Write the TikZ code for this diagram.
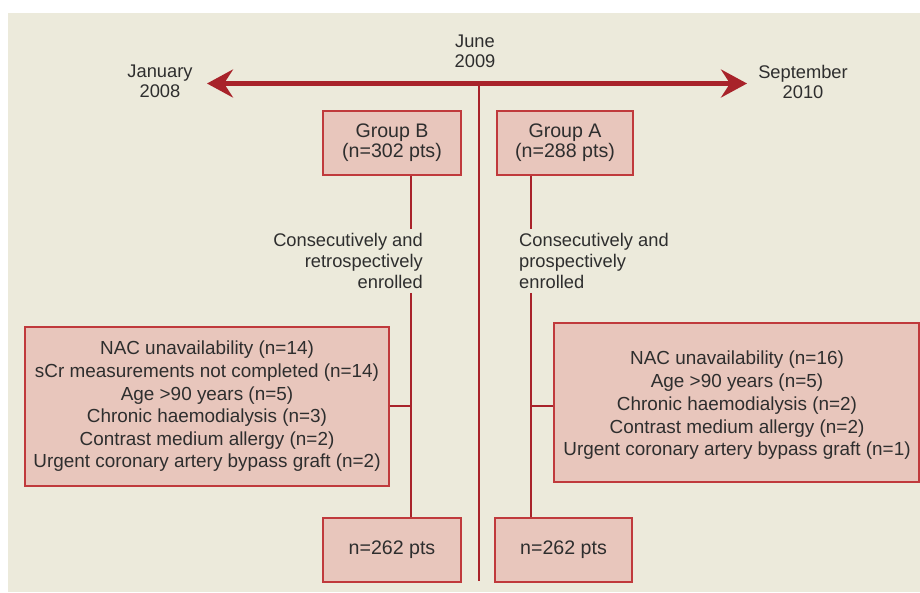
\documentclass[tikz,border=0pt]{standalone}
\usepackage{fontspec}
\setmainfont{Liberation Sans}
\usetikzlibrary{arrows.meta}
\definecolor{paper}{HTML}{ECEADB}
\definecolor{boxfill}{HTML}{E8C6BC}
\definecolor{boxline}{HTML}{C03A3C}
\definecolor{linkred}{HTML}{A8232A}
\definecolor{ink}{HTML}{2E2E2E}
\tikzset{
  pbox/.style={draw=boxline, fill=boxfill, line width=1.2pt, align=center, inner sep=0pt, text=ink,
    font=\fontsize{19.6}{20}\selectfont},
  plabel/.style={align=center, inner sep=0pt, text=ink, font=\fontsize{18.3}{20}\selectfont},
  link/.style={draw=linkred, line width=2.4pt},
  tip/.style={Stealth[length=26pt,width=28pt,inset=9pt]}
}

\begin{document}
\begin{tikzpicture}[x=1pt, y=-1pt]
  \useasboundingbox (0,0) rectangle (920,592);
  \fill[paper] (8,13) rectangle (920,592);
  % timeline
  \coordinate (start) at (207,83.5);
  \coordinate (stop) at (747,83.5);
  \coordinate (june) at (479,83.5);
  \coordinate (bottom) at (479,581);
  \draw[link] (june) -- (bottom);
  \draw[linkred, line width=5pt, {Stealth[length=26pt,width=28pt,inset=9pt]}-{Stealth[length=26pt,width=28pt,inset=9pt]}] (start) -- (stop);
  \node[plabel] (jan) at (160,81) {January\\2008};
  \node[plabel] (jun) at (475,51) {June\\2009};
  \node[plabel] (sep) at (803,82) {September\\2010};
  % groups
  \node[pbox, minimum width=138pt, minimum height=64pt] (grpB) at (392,143) {Group B\\(n=302 pts)};
  \node[pbox, minimum width=136pt, minimum height=64pt] (grpA) at (565,143) {Group A\\(n=288 pts)};
  \node[plabel, align=right, anchor=east, inner ysep=4pt, font=\fontsize{18.3}{21}\selectfont] (enrB) at (423,261) {Consecutively and\\retrospectively\\enrolled};
  \node[plabel, align=left, anchor=west, inner ysep=4pt, font=\fontsize{18.3}{21}\selectfont] (enrA) at (519,261) {Consecutively and\\prospectively\\enrolled};
  % exclusions
  \node[pbox, minimum width=364pt, minimum height=159pt, font=\fontsize{18.9}{22.6}\selectfont] (exclB) at (207,406.5) {NAC unavailability (n=14)\\sCr measurements not completed (n=14)\\Age >90 years (n=5)\\Chronic haemodialysis (n=3)\\Contrast medium allergy (n=2)\\Urgent coronary artery bypass graft (n=2)};
  \node[pbox, minimum width=365pt, minimum height=159pt] (exclA) at (736.5,402.5) {};
  \node[plabel, font=\fontsize{18.9}{22.75}\selectfont] (exclAtext) at (737,405.5) {NAC unavailability (n=16)\\Age >90 years (n=5)\\Chronic haemodialysis (n=2)\\Contrast medium allergy (n=2)\\Urgent coronary artery bypass graft (n=1)};
  % results
  \node[pbox, minimum width=138pt, minimum height=64pt] (finB) at (392,550) {n=262 pts};
  \node[pbox, minimum width=137pt, minimum height=64pt] (finA) at (563.5,550) {n=262 pts};
  % connectors
  \coordinate (jB) at (411,406);
  \coordinate (jA) at (531,406);
  \draw[link] (jB |- grpB.south) -- (jB |- enrB.north);
  \draw[link] (jB |- enrB.south) -- (jB |- finB.north);
  \draw[link] (exclB.east |- jB) -- (jB);
  \draw[link] (jA |- grpA.south) -- (jA |- enrA.north);
  \draw[link] (jA |- enrA.south) -- (jA |- finA.north);
  \draw[link] (exclA.west |- jA) -- (jA);
\end{tikzpicture}
\end{document}
